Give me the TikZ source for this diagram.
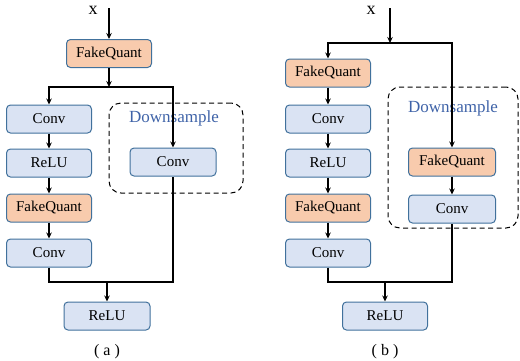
\documentclass[tikz,border=0pt]{standalone}
\usepackage{fontspec}
\setmainfont{Liberation Serif}
\usetikzlibrary{arrows.meta}
\definecolor{fqfill}{HTML}{F8CBAD}
\definecolor{bxfill}{HTML}{DAE3F3}
\definecolor{bxline}{HTML}{41719C}
\definecolor{dstext}{HTML}{3F63A8}
\begin{document}
\begin{tikzpicture}[x=1pt,y=-1pt,
  box/.style={draw=bxline,line width=1pt,rounded corners=4pt,minimum width=85pt,minimum height=28pt,inner sep=0pt,font=\fontsize{15}{18}\selectfont},
  fq/.style={box,fill=fqfill},
  bl/.style={box,fill=bxfill},
  ln/.style={line width=2pt},
  arr/.style={ln,-{Stealth[length=6pt,width=5.5pt]}},
  dbox/.style={draw,dash pattern=on 5pt off 3.5pt,line width=1pt,rounded corners=12pt},
  dslab/.style={text=dstext,font=\fontsize{17}{20}\selectfont,inner sep=0pt},
  captxt/.style={font=\fontsize{16}{18}\selectfont,inner sep=0pt},
  xlab/.style={font=\fontsize{18}{20}\selectfont,inner sep=0pt}]
\useasboundingbox (0,0) rectangle (520,360);
% ---------------- panel (a)
\node[dbox,minimum width=134pt,minimum height=90pt] (dsA) at (176,148) {};
\node[dslab] (dsAt) at (174,118) {Downsample};
\node[xlab] (xA) at (93,10) {x};
\coordinate (inA) at (109,8);
\node[fq] (fqA) at (109,53.5) {FakeQuant};
\node[bl] (convA1) at (49,119) {Conv};
\node[bl] (reluA1) at (49,163) {ReLU};
\node[fq] (fqA2) at (49,208) {FakeQuant};
\node[bl] (convA2) at (49,253) {Conv};
\node[bl,minimum width=86pt] (convAR) at (173,162) {Conv};
\node[bl,minimum width=86pt] (reluA) at (107,316) {ReLU};
\coordinate (jA) at (109,87);
\coordinate (mA) at (107,282);
\draw[arr] (inA) -- (fqA.north);
\draw[arr] (fqA.south) -- (jA);
\draw[arr] (jA) -| (convA1.north);
\draw[arr] (jA) -| (convAR.north);
\draw[arr] (convA1) -- (reluA1);
\draw[arr] (reluA1) -- (fqA2);
\draw[arr] (fqA2) -- (convA2);
\draw[ln] (convA2.south) |- (mA) -| (convAR.south);
\draw[arr] (mA) -- (reluA.north);
\node[captxt] (capA) at (107,352) {( a )};
% ---------------- panel (b)
\node[dbox,minimum width=130pt,minimum height=141pt] (dsB) at (453,157.5) {};
\node[dslab] (dsBt) at (453,108) {Downsample};
\node[xlab] (xB) at (371,10) {x};
\coordinate (inB) at (390,8);
\coordinate (jB) at (390,43);
\node[fq] (fqB1) at (328,73) {FakeQuant};
\node[bl] (convB1) at (328,119) {Conv};
\node[bl] (reluB1) at (328,163) {ReLU};
\node[fq] (fqB2) at (328,208) {FakeQuant};
\node[bl] (convB2) at (328,253) {Conv};
\node[fq,minimum width=87pt] (fqBR) at (452,162) {FakeQuant};
\node[bl,minimum width=87pt] (convBR) at (452,209) {Conv};
\node[bl] (reluB) at (385,316) {ReLU};
\coordinate (mB) at (385,282);
\draw[arr] (inB) -- (jB);
\draw[arr] (jB) -| (fqB1.north);
\draw[arr] (jB) -| (fqBR.north);
\draw[arr] (fqB1) -- (convB1);
\draw[arr] (convB1) -- (reluB1);
\draw[arr] (reluB1) -- (fqB2);
\draw[arr] (fqB2) -- (convB2);
\draw[arr] (fqBR) -- (convBR);
\draw[ln] (convB2.south) |- (mB) -| (convBR.south);
\draw[arr] (mB) -- (reluB.north);
\node[captxt] (capB) at (385,352) {( b )};
\end{tikzpicture}
\end{document}
